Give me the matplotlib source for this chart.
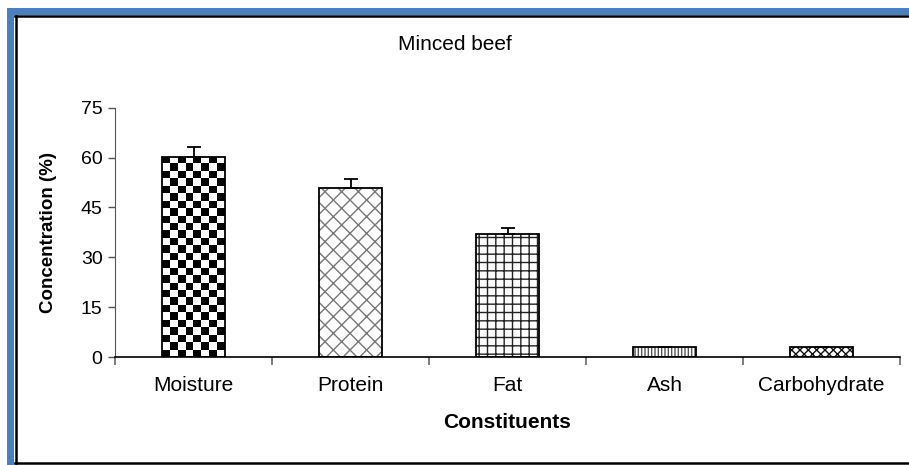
import numpy as np
import matplotlib
matplotlib.use("Agg")
import matplotlib.pyplot as plt
from matplotlib.patches import Rectangle
from matplotlib.lines import Line2D

plt.rcParams["font.family"] = ["Liberation Sans", "DejaVu Sans"]
plt.rcParams["hatch.linewidth"] = 1.0

# data
categories = ["Moisture", "Protein", "Fat", "Ash", "Carbohydrate"]
values = [60.3, 50.8, 36.9, 3.1, 3.1]
errors = [3.0, 2.9, 2.0, 0.0, 0.0]
y_ticks = [0, 15, 30, 45, 60, 75]

hatches = [None, "xx", "++", "|||||", "xxxx"]
hatch_cols = ["black", "#777777", "#222222", "#555555", "#111111"]

W, H = 909, 465
fig = plt.figure(figsize=(W / 100, H / 100), dpi=100)
fig.patch.set_facecolor("white")

# axes placed in pixel terms
ax_l, ax_r, ax_b, ax_t = 115, 900, 357, 107.7
ax = fig.add_axes([ax_l / W, 1 - ax_b / H, (ax_r - ax_l) / W, (ax_b - ax_t) / H])

x = np.arange(len(categories))
bw = 0.4

for i in range(len(categories)):
    if hatches[i] is not None:
        ax.bar(x[i], values[i], width=bw, color="white", edgecolor=hatch_cols[i],
               hatch=hatches[i], linewidth=0, zorder=2)
outline = ax.bar(x, values, width=bw, fill=False, edgecolor="black", linewidth=1.3, zorder=3)

ax.errorbar(x, values, yerr=[np.zeros(len(errors)), errors], fmt="none",
            ecolor="black", elinewidth=1.3, capsize=5, capthick=1.3, zorder=4)

ax.set_xlim(-0.5, len(categories) - 0.5)
ax.set_ylim(0, 75)

# checkerboard fill for Moisture bar
px_x = (ax_r - ax_l) / len(categories)
px_y = (ax_b - ax_t) / 75
cell = 7.5
nx = int(round(bw * px_x / cell))
ny = int(round(values[0] * px_y / cell))
checker = (np.indices((ny, nx)).sum(axis=0) % 2).astype(float)
im = ax.imshow(checker, cmap="gray", vmin=0, vmax=1, interpolation="nearest",
               extent=[x[0] - bw / 2, x[0] + bw / 2, 0, values[0]],
               aspect="auto", zorder=2)
im.set_clip_path(outline[0])
ax.set_xlim(-0.5, len(categories) - 0.5)
ax.set_ylim(0, 75)

ax.set_yticks(y_ticks)
ax.set_xticks(x)
ax.set_xticklabels(categories)
ax.set_xticks(np.arange(len(categories) + 1) - 0.5, minor=True)
ax.tick_params(axis="x", which="major", length=0, labelsize=15, pad=14)
ax.tick_params(axis="x", which="minor", length=6, color="#666666", width=1.2)
ax.tick_params(axis="y", length=5, color="#555555", width=1, labelsize=14, pad=4)

for s in ["top", "right"]:
    ax.spines[s].set_visible(False)
ax.spines["left"].set_color("#555555")
ax.spines["bottom"].set_color("black")
ax.spines["bottom"].set_linewidth(1.2)

ax.set_ylabel("Concentration (%)", fontsize=13.5, fontweight="bold", labelpad=17)
ax.set_xlabel("Constituents", fontsize=15, fontweight="bold", labelpad=13)

fig.text(455 / W, 1 - 45 / H, "Minced beef", ha="center", va="center", fontsize=15)

# blue frame on the left and top
blue = "#4a7fc1"
fig.patches.append(Rectangle((7 / W, 0), 7 / W, (H - 8) / H, transform=fig.transFigure,
                             facecolor=blue, edgecolor="none"))
fig.patches.append(Rectangle((7 / W, (H - 15) / H), 1, 7 / H, transform=fig.transFigure,
                             facecolor=blue, edgecolor="none"))
for xs, ys in [([15.5, 15.5], [16, 463]), ([15, W], [16, 16]), ([15, W], [463, 463])]:
    fig.lines.append(Line2D([v / W for v in xs], [1 - v / H for v in ys],
                            transform=fig.transFigure, color="black", linewidth=1.8))

fig.savefig("out.png", dpi=100)
